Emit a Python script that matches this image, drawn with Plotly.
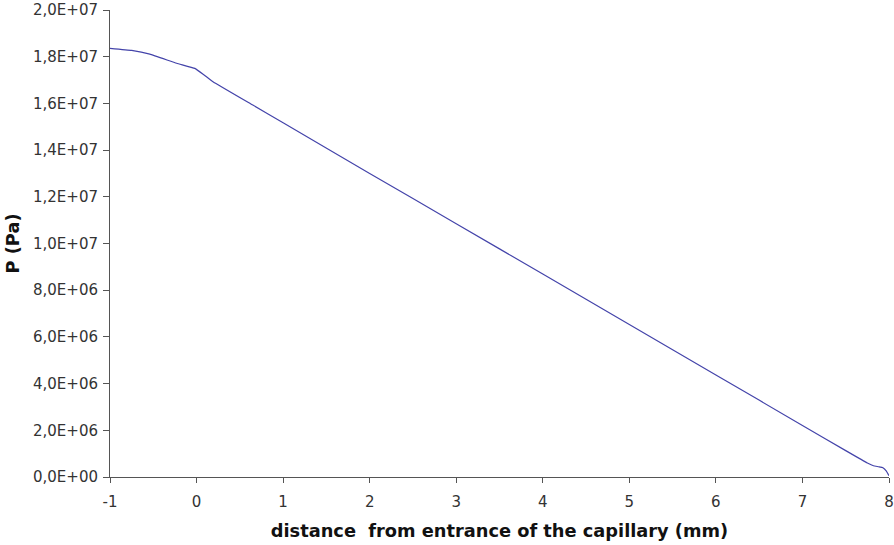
import plotly.graph_objects as go

distance_mm = [-1, -0.75, -0.54, -0.23, -0.02, 0.08, 0.19, 0.65, 1, 2, 3, 4, 5, 6, 7,
               7.5, 7.75, 7.82, 7.88, 7.93, 7.97, 8.0]
pressure_pa = [18.36e6, 18.27e6, 18.11e6, 17.72e6, 17.5e6, 17.24e6, 16.93e6, 15.93e6,
               15.17e6, 13.0e6, 10.85e6, 8.69e6, 6.53e6, 4.37e6, 2.21e6,
               1.13e6, 0.6e6, 0.48e6, 0.44e6, 0.4e6, 0.25e6, 0.05e6]

x_ticks = [-1, 0, 1, 2, 3, 4, 5, 6, 7, 8]
y_ticks = [0, 2e6, 4e6, 6e6, 8e6, 1e7, 1.2e7, 1.4e7, 1.6e7, 1.8e7, 2e7]
y_tick_labels = ["0,0E+00", "2,0E+06", "4,0E+06", "6,0E+06", "8,0E+06", "1,0E+07",
                 "1,2E+07", "1,4E+07", "1,6E+07", "1,8E+07", "2,0E+07"]

fig = go.Figure()
fig.add_trace(go.Scatter(
    x=distance_mm, y=pressure_pa, mode="lines",
    line=dict(color="#4444AA", width=1.2, shape="spline", smoothing=0.3),
    showlegend=False,
))

font_family = "DejaVu Sans, Verdana, sans-serif"
fig.update_layout(
    width=894, height=545,
    paper_bgcolor="white", plot_bgcolor="white",
    margin=dict(l=110, r=0, t=10, b=68),
    font=dict(family=font_family, size=15, color="#333333"),
    xaxis=dict(
        range=[-1, 8], tickvals=x_ticks, ticktext=[str(v) for v in x_ticks],
        showline=True, linecolor="#555555", linewidth=1,
        ticks="outside", ticklen=5, tickcolor="#555555",
        ticklabelstandoff=6, ticklabeloverflow="allow",
        showgrid=False, zeroline=False,
        title=dict(text="<b>distance  from entrance of the capillary (mm)</b>",
                   font=dict(size=17.8, color="#111111"), standoff=14),
    ),
    yaxis=dict(
        range=[0, 2e7], tickvals=y_ticks, ticktext=y_tick_labels,
        showline=True, linecolor="#555555", linewidth=1,
        ticks="outside", ticklen=6, tickcolor="#555555",
        ticklabelstandoff=2, ticklabeloverflow="allow",
        showgrid=False, zeroline=False,
        title=dict(text="<b>P (Pa)</b>", font=dict(size=17.8, color="#111111"), standoff=8),
    ),
)

fig.write_html("out.html", config={"displayModeBar": False},
               post_script="document.body.style.margin='0';")
